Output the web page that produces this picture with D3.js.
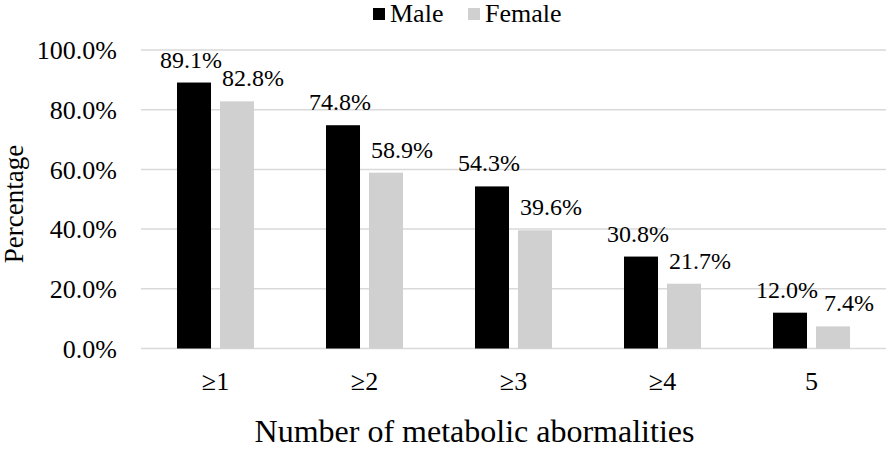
<!DOCTYPE html>
<html><head><meta charset="utf-8">
<script src="https://cdn.jsdelivr.net/npm/d3@7"></script>
<style>
html,body{margin:0;padding:0;background:#fff;}
svg, svg text{font-family:"Liberation Serif","Times New Roman","DejaVu Serif",serif;}
</style></head>
<body><svg id="chart" width="886" height="453"></svg>
<script>
const categories = ["≥1","≥2","≥3","≥4","5"];
const seriesNames = ["Male","Female"];
const maleValues = [89.1, 74.8, 54.3, 30.8, 12.0];
const femaleValues = [82.8, 58.9, 39.6, 21.7, 7.4];
const yTicks = [0, 20, 40, 60, 80, 100];
const colors = {Male:"#000000", Female:"#d0d0d0"};
const FONT = "'Liberation Serif', 'Times New Roman', 'DejaVu Serif', serif";

const svg = d3.select("#chart").attr("font-family", FONT);
const plot = {left:141, right:886, top:50, bottom:348.5};

const x0 = d3.scaleBand().domain(categories).range([plot.left, plot.right]).paddingInner(0).paddingOuter(0);
const x1 = d3.scaleBand().domain(seriesNames).range([0, x0.bandwidth()]).paddingInner(0.209).paddingOuter(0.837);
const y = d3.scaleLinear().domain([0,100]).range([plot.bottom, plot.top]);

// gridlines
svg.append("g").selectAll("line").data(yTicks).join("line")
  .attr("x1", plot.left).attr("x2", plot.right)
  .attr("y1", d=>y(d)).attr("y2", d=>y(d))
  .attr("stroke", "#d9d9d9").attr("stroke-width", 1.5);

// y tick labels
svg.append("g").selectAll("text").data(yTicks).join("text")
  .attr("font-family", FONT)
  .attr("x", 117).attr("y", d=>y(d)).attr("dy","0.35em")
  .attr("text-anchor","end").attr("font-size", 26)
  .text(d=>d.toFixed(1)+"%");

const data = categories.map((c,i)=>({cat:c, vals:[{s:"Male",v:maleValues[i]},{s:"Female",v:femaleValues[i]}]}));
const labelShift = {Male:-3, Female:16};

const groups = svg.append("g").selectAll("g").data(data).join("g")
  .attr("transform", d=>`translate(${x0(d.cat)},0)`);

groups.selectAll("rect").data(d=>d.vals).join("rect")
  .attr("x", d=>x1(d.s)).attr("width", x1.bandwidth())
  .attr("y", d=>y(d.v)).attr("height", d=>y(0)-y(d.v))
  .attr("fill", d=>colors[d.s]);

groups.selectAll("text.lbl").data(d=>d.vals).join("text")
  .attr("class","lbl").attr("font-family", FONT)
  .attr("x", d=>x1(d.s)+x1.bandwidth()/2+labelShift[d.s]).attr("y", d=>y(d.v)-15)
  .attr("text-anchor","middle").attr("font-size", 24)
  .text(d=>d.v.toFixed(1)+"%");

// category labels
svg.append("g").selectAll("text").data(categories).join("text")
  .attr("font-family", FONT)
  .attr("x", d=>x0(d)+x0.bandwidth()/2).attr("y", 390)
  .attr("text-anchor","middle").attr("font-size", 26)
  .text(d=>d);

// axis titles
svg.append("text").attr("font-family", FONT).attr("x", (plot.left+plot.right)/2 - 39).attr("y", 442)
  .attr("text-anchor","middle").attr("font-size", 32)
  .text("Number of metabolic abormalities");
svg.append("text").attr("font-family", FONT).attr("transform","translate(23,204) rotate(-90)")
  .attr("text-anchor","middle").attr("font-size", 27)
  .text("Percentage");

// legend
const legend = svg.append("g");
const legendItems = [{s:"Male", x:373},{s:"Female", x:468}];
legendItems.forEach(it=>{
  legend.append("rect").attr("x", it.x).attr("y", 8).attr("width", 12).attr("height", 12).attr("fill", colors[it.s]);
  legend.append("text").attr("font-family", FONT).attr("x", it.x+17).attr("y", 22).attr("font-size", 26).text(it.s);
});
</script></body></html>
